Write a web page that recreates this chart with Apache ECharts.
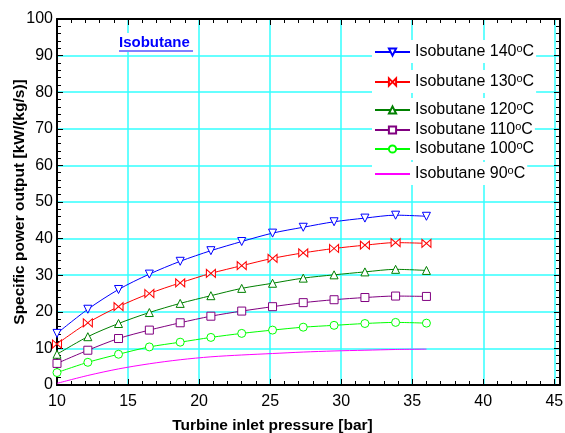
<!DOCTYPE html>
<html>
<head>
<meta charset="utf-8">
<script src="https://cdn.jsdelivr.net/npm/echarts@6/dist/echarts.min.js"></script>
<style>html,body{margin:0;padding:0;background:#fff}#c{width:565px;height:433px}</style>
</head>
<body>
<div id="c"></div>
<script>
// Turbine inlet pressure [bar]
const pressure = [10, 12.17, 14.33, 16.5, 18.67, 20.83, 23, 25.17, 27.33, 29.5, 31.67, 33.83, 36];
// Specific power output [kW/(kg/s)]
const iso140 = [14.1, 20.7, 26.1, 30.3, 33.8, 36.7, 39.2, 41.5, 43.1, 44.6, 45.6, 46.4, 46.1];
const iso130 = [11.2, 17.0, 21.4, 25.0, 27.9, 30.5, 32.6, 34.6, 36.1, 37.3, 38.2, 38.9, 38.7];
const iso120 = [8.4, 13.2, 16.8, 19.8, 22.3, 24.4, 26.4, 27.8, 29.2, 30.1, 30.9, 31.6, 31.3];
const iso110 = [5.9, 9.5, 12.7, 15.0, 17.0, 18.8, 20.2, 21.4, 22.5, 23.3, 23.9, 24.3, 24.2];
const iso100 = [3.4, 6.2, 8.4, 10.4, 11.7, 13.0, 14.1, 15.0, 15.8, 16.3, 16.8, 17.1, 16.9];
const iso90  = [0.45, 2.6, 4.4, 5.8, 6.9, 7.7, 8.2, 8.6, 9.0, 9.3, 9.5, 9.7, 9.8];
const seriesNames = ['Isobutane 140°C', 'Isobutane 130°C', 'Isobutane 120°C', 'Isobutane 110°C', 'Isobutane 100°C', 'Isobutane 90°C'];
const xTicks = [10, 15, 20, 25, 30, 35, 40, 45];
const yTicks = [0, 10, 20, 30, 40, 50, 60, 70, 80, 90, 100];

const FONT = "'Liberation Sans', Arial, sans-serif";
const colors = ['#0000ff', '#ff0000', '#008000', '#800080', '#00ff00', '#ff00ff'];
const symbols = [
  'path://M0,0 L10,0 L5,9 Z',
  'path://M0,0 L10,10 L10,0 L0,10 Z',
  'triangle',
  'rect',
  'circle',
  'none'
];
const values = [iso140, iso130, iso120, iso110, iso100, iso90];
const legendCenters = [52, 82, 110, 130, 149, 174];

const series = values.map((arr, k) => ({
  name: seriesNames[k],
  type: 'line',
  xAxisIndex: 0,
  yAxisIndex: 0,
  data: pressure.map((p, i) => [p, arr[i]]),
  smooth: 0.3,
  symbol: symbols[k] === 'none' ? 'circle' : symbols[k],
  showSymbol: symbols[k] !== 'none',
  symbolSize: k === 1 ? [9, 8] : 8,
  lineStyle: { color: colors[k], width: 1 },
  itemStyle: { color: '#ffffff', borderColor: colors[k], borderWidth: 1 },
  emphasis: { disabled: true },
  animation: false
}));

const legends = seriesNames.map((n, k) => ({
  data: [symbols[k] === 'none'
    ? { name: n, itemStyle: { color: 'rgba(0,0,0,0)', borderColor: 'rgba(0,0,0,0)' } }
    : n],
  left: 372,
  top: legendCenters[k] - 12,
  orient: 'vertical',
  itemWidth: 35,
  itemHeight: 9,
  itemGap: 0,
  padding: [3, 2, 3, 2],
  backgroundColor: '#ffffff',
  selectedMode: false,
  formatter: name => '{n|' + name.replace('°C', '}{s|o}{n|C}'),
  textStyle: {
    fontFamily: FONT, fontSize: 16, color: '#000',
    rich: {
      n: { fontFamily: FONT, fontSize: 16, color: '#000', lineHeight: 18 },
      s: { fontFamily: FONT, fontSize: 11, color: '#000', lineHeight: 7, verticalAlign: 'top' }
    }
  }
}));

const axisCommon = {
  type: 'value',
  axisLine: { show: true, onZero: false, lineStyle: { color: '#000', width: 2 } },
  axisTick: { show: true, inside: true, length: 6, lineStyle: { color: '#000', width: 1 } },
  minorTick: { show: true, splitNumber: 5, length: 4, lineStyle: { color: '#000', width: 1 } },
  minorSplitLine: { show: false }
};

const option = {
  backgroundColor: '#ffffff',
  animation: false,
  title: {
    text: 'Isobutane',
    left: 112,
    top: 33,
    padding: [2, 7, 2, 7],
    backgroundColor: '#ffffff',
    textStyle: { fontFamily: FONT, fontSize: 15, fontWeight: 'bold', color: '#0000ff' }
  },
  graphic: [{
    type: 'line', z: 100,
    shape: { x1: 119, y1: 51, x2: 193, y2: 51 },
    style: { stroke: '#0000ff', lineWidth: 1 }
  }],
  legend: legends,
  grid: { left: 57, right: 5, top: 19, bottom: 48, containLabel: false, outerBoundsMode: 'none' },
  xAxis: [
    Object.assign({}, axisCommon, {
      position: 'bottom',
      min: xTicks[0], max: 45.4, interval: 5,
      name: 'Turbine inlet pressure [bar]',
      nameLocation: 'middle',
      nameGap: 33,
      nameMoveOverlap: false,
      nameTextStyle: { fontFamily: FONT, fontSize: 15.5, fontWeight: 'bold', color: '#000', padding: [0, 72, 0, 0] },
      axisLabel: { show: true, margin: 9, fontFamily: FONT, fontSize: 16, color: '#000', showMaxLabel: false,
        formatter: v => (xTicks.indexOf(v) >= 0 ? String(v) : '') },
      splitLine: { show: true, showMinLine: false, showMaxLine: false, lineStyle: { color: '#33ffff', width: 1.5 } }
    }),
    Object.assign({}, axisCommon, {
      position: 'top',
      min: xTicks[0], max: 45.4, interval: 5,
      axisLabel: { show: false },
      splitLine: { show: false }
    })
  ],
  yAxis: [
    Object.assign({}, axisCommon, {
      position: 'left',
      min: yTicks[0], max: yTicks[yTicks.length - 1], interval: 10,
      name: 'Specific power output [kW/(kg/s)]',
      nameLocation: 'middle',
      nameGap: 29,
      nameMoveOverlap: false,
      nameTextStyle: { fontFamily: FONT, fontSize: 15.5, fontWeight: 'bold', color: '#000' },
      axisLabel: { show: true, margin: 4, fontFamily: FONT, fontSize: 16, color: '#000' },
      splitLine: { show: true, showMinLine: false, showMaxLine: false, lineStyle: { color: '#33ffff', width: 1.5 } }
    }),
    Object.assign({}, axisCommon, {
      position: 'right',
      min: yTicks[0], max: yTicks[yTicks.length - 1], interval: 10,
      axisLabel: { show: false },
      splitLine: { show: false }
    })
  ],
  series: series
};

const chart = echarts.init(document.getElementById('c'), null, { renderer: 'canvas' });
chart.setOption(option);
</script>
</body>
</html>
